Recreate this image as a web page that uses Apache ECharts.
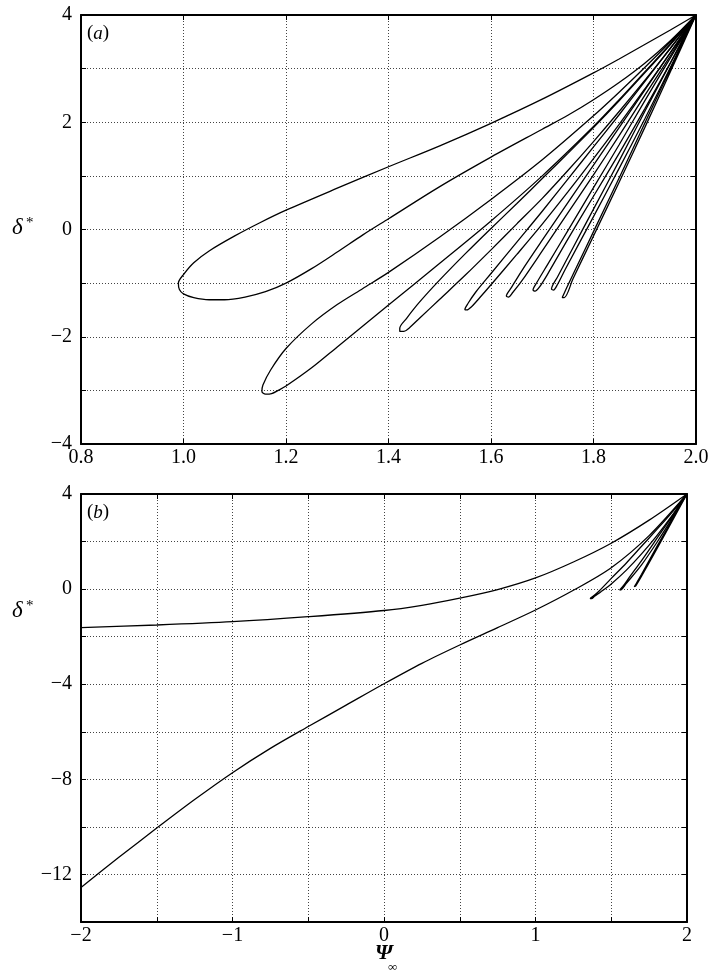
<!DOCTYPE html>
<html lang="en">
<head>
    <meta charset="UTF-8">
    <title>δ* vs Ψ∞</title>
    <style>
        body{ margin:0; background:#fff; }
        #main{ width:709px; height:975px; }
    </style>
</head>
<body>
<div id="main"></div>
<script src="https://cdn.jsdelivr.net/npm/echarts@6/dist/echarts.min.js"></script>
<script>
    // panel (a): loops all leaving from (2,4)
    const loop1 = [[2.0,4.0],[1.95,3.72],[1.9,3.45],[1.85,3.18],[1.8,2.92],[1.7,2.43],[1.6,1.98],[1.5,1.56],[1.4,1.17],[1.3,0.77],[1.2,0.36],[1.15,0.13],[1.1,-0.12],[1.05,-0.4],[1.02,-0.62],[1.0,-0.84],[0.99,-1.0],[0.992,-1.12],[1.0,-1.2],[1.02,-1.27],[1.05,-1.31],[1.08,-1.31],[1.12,-1.26],[1.16,-1.16],[1.2,-1.0],[1.25,-0.73],[1.3,-0.42],[1.35,-0.1],[1.4,0.2],[1.5,0.8],[1.6,1.35],[1.7,1.87],[1.75,2.13],[1.8,2.42],[1.85,2.74],[1.9,3.1],[1.95,3.52],[2.0,4.0]]
    const loop2 = [[2.0,4.0],[1.95,3.5],[1.9,3.02],[1.85,2.56],[1.8,2.12],[1.7,1.3],[1.6,0.56],[1.5,-0.14],[1.4,-0.8],[1.35,-1.1],[1.3,-1.4],[1.25,-1.76],[1.2,-2.22],[1.17,-2.62],[1.155,-2.9],[1.153,-3.02],[1.16,-3.07],[1.172,-3.06],[1.185,-3.0],[1.2,-2.92],[1.25,-2.58],[1.3,-2.19],[1.35,-1.8],[1.4,-1.41],[1.5,-0.63],[1.6,0.16],[1.7,1.0],[1.8,1.92],[1.85,2.42],[1.9,2.94],[1.95,3.46],[2.0,4.0]]
    const loop3 = [[2.0,4.0],[1.95,3.45],[1.9,2.92],[1.85,2.4],[1.8,1.9],[1.75,1.42],[1.7,0.95],[1.65,0.48],[1.6,0.02],[1.55,-0.45],[1.5,-0.94],[1.46,-1.36],[1.435,-1.66],[1.422,-1.84],[1.422,-1.9],[1.43,-1.9],[1.44,-1.84],[1.46,-1.66],[1.5,-1.3],[1.55,-0.85],[1.6,-0.38],[1.65,0.1],[1.7,0.58],[1.75,1.1],[1.8,1.64],[1.85,2.2],[1.9,2.78],[1.95,3.38],[2.0,4.0]]
    const loop4 = [[2.0,4.0],[1.95,3.38],[1.9,2.76],[1.85,2.14],[1.8,1.54],[1.75,0.94],[1.7,0.34],[1.65,-0.24],[1.6,-0.82],[1.57,-1.17],[1.555,-1.38],[1.549,-1.49],[1.553,-1.5],[1.562,-1.44],[1.58,-1.25],[1.6,-1.03],[1.65,-0.47],[1.7,0.1],[1.75,0.7],[1.8,1.32],[1.85,1.96],[1.9,2.62],[1.95,3.3],[2.0,4.0]]
    const loop5 = [[2.0,4.0],[1.95,3.3],[1.9,2.6],[1.85,1.9],[1.8,1.2],[1.75,0.5],[1.7,-0.2],[1.66,-0.77],[1.64,-1.08],[1.63,-1.24],[1.634,-1.26],[1.642,-1.18],[1.66,-0.96],[1.7,-0.4],[1.75,0.31],[1.8,1.02],[1.85,1.75],[1.9,2.5],[1.95,3.24],[2.0,4.0]]
    const loop6 = [[2.0,4.0],[1.95,3.2],[1.9,2.4],[1.85,1.58],[1.8,0.78],[1.75,-0.02],[1.71,-0.66],[1.69,-0.98],[1.682,-1.13],[1.686,-1.15],[1.694,-1.08],[1.71,-0.84],[1.75,-0.18],[1.8,0.62],[1.85,1.42],[1.9,2.25],[1.95,3.11],[2.0,4.0]]
    const loop7 = [[2.0,4.0],[1.95,3.1],[1.9,2.2],[1.85,1.28],[1.8,0.38],[1.76,-0.34],[1.73,-0.88],[1.718,-1.11],[1.722,-1.13],[1.73,-1.02],[1.745,-0.74],[1.8,0.24],[1.85,1.14],[1.9,2.06],[1.95,3.02],[2.0,4.0]]
    const loop8 = [[2.0,4.0],[1.95,3.0],[1.9,1.98],[1.85,0.96],[1.8,-0.04],[1.77,-0.64],[1.75,-1.04],[1.739,-1.27],[1.743,-1.27],[1.76,-0.92],[1.8,-0.12],[1.85,0.88],[1.9,1.9],[1.95,2.94],[2.0,4.0]]

    // panel (b)
    const upperB = [[-2.0,-1.62],[-1.5,-1.51],[-1.0,-1.37],[-0.5,-1.16],[0.0,-0.9],[0.25,-0.68],[0.5,-0.38],[0.75,-0.02],[1.0,0.47],[1.25,1.14],[1.5,1.93],[1.75,2.9],[2.0,4.0]]
    const lowerB = [[-2.0,-12.55],[-1.75,-11.28],[-1.5,-10.05],[-1.25,-8.85],[-1.0,-7.72],[-0.75,-6.7],[-0.5,-5.78],[-0.25,-4.88],[0.0,-3.98],[0.25,-3.12],[0.5,-2.35],[0.75,-1.62],[1.0,-0.88],[1.25,-0.05],[1.5,0.9],[1.75,2.25],[2.0,4.0]]
    const loopB1 = [[2.0,4.0],[1.9,3.22],[1.8,2.5],[1.7,1.8],[1.6,1.1],[1.5,0.45],[1.42,-0.08],[1.38,-0.3],[1.362,-0.39],[1.37,-0.4],[1.39,-0.3],[1.43,-0.12],[1.5,0.22],[1.6,0.8],[1.7,1.48],[1.8,2.24],[1.9,3.08],[2.0,4.0]]
    const loopB2 = [[2.0,4.0],[1.9,3.05],[1.8,2.12],[1.7,1.2],[1.62,0.5],[1.575,0.1],[1.556,-0.04],[1.566,-0.03],[1.6,0.24],[1.7,1.02],[1.8,1.95],[1.9,2.95],[2.0,4.0]]
    const loopB3 = [[2.0,4.0],[1.9,2.9],[1.8,1.78],[1.7,0.62],[1.66,0.18],[1.652,0.1],[1.662,0.14],[1.7,0.54],[1.8,1.68],[1.9,2.84],[2.0,4.0]]

    const curvesA = [loop1,loop2,loop3,loop4,loop5,loop6,loop7,loop8]
    const curvesB = [upperB,lowerB,loopB1,loopB2,loopB3]

    const FONT = 'Liberation Serif'
    const minus = v => v < 0 ? '\u2212' + Math.abs(v) : String(v)

    const gridLine = { show:true, lineStyle:{ color:'#444', width:1, type:[1,2] } }
    const frame = { show:true, onZero:false, lineStyle:{ color:'#000', width:2 } }
    const ticks = { show:true, inside:true, length:5, lineStyle:{ color:'#000', width:1 } }
    const label = (fmt, margin) => ({
        show:true, color:'#000', fontFamily:FONT, fontSize:20, margin,
        showMinLabel:true, showMaxLabel:true, formatter:fmt
    })

    // one panel = bottom/left axes with labels plus top/right axes for the box
    function xPair(grid, min, max, interval, fmt){
        return [
            { type:'value', gridIndex:grid, min, max, interval, position:'bottom',
              axisLine:frame, axisTick:ticks, splitLine:gridLine, axisLabel:label(fmt, 4) },
            { type:'value', gridIndex:grid, min, max, interval, position:'top',
              axisLine:frame, axisTick:ticks, splitLine:{show:false}, axisLabel:{show:false} }
        ]
    }
    function yPair(grid, min, max, interval, fmt){
        return [
            { type:'value', gridIndex:grid, min, max, interval, position:'left',
              axisLine:frame, axisTick:ticks, splitLine:gridLine, axisLabel:label(fmt, 9) },
            { type:'value', gridIndex:grid, min, max, interval, position:'right',
              axisLine:frame, axisTick:ticks, splitLine:{show:false}, axisLabel:{show:false} }
        ]
    }

    const lineSeries = (data, axis) => ({
        type:'line', data, xAxisIndex:axis, yAxisIndex:axis,
        showSymbol:false, symbol:'none', smooth:0.3, silent:true,
        lineStyle:{ color:'#000', width:1.3 }
    })

    const myChart = echarts.init(document.getElementById('main'))

    const option = {
        animation:false,
        backgroundColor:'#fff',
        grid:[
            { left:81, top:15, width:615, height:429, containLabel:false, outerBoundsMode:'none' },
            { left:81, top:494, width:606, height:428, containLabel:false, outerBoundsMode:'none' }
        ],
        xAxis:[
            ...xPair(0, 0.8, 2.0, 0.2, v => v.toFixed(1)),
            ...xPair(1, -2, 2, 0.5, v => Math.abs(v - Math.round(v)) < 1e-6 ? minus(Math.round(v)) : '')
        ],
        yAxis:[
            ...yPair(0, -4, 4, 1, v => Math.round(v) % 2 === 0 ? minus(Math.round(v)) : ''),
            ...yPair(1, -14, 4, 2, v => Math.round(v) % 4 === 0 ? minus(Math.round(v)) : '')
        ],
        series:[
            ...curvesA.map(d => lineSeries(d, 0)),
            ...curvesB.map(d => lineSeries(d, 2))
        ],
        graphic:[
            { type:'text', left:87, top:24, style:{ text:'({i|a})', fontFamily:FONT, fontSize:19, fill:'#000',
                rich:{ i:{ fontStyle:'italic', fontSize:19, fontFamily:FONT } } } },
            { type:'text', left:87, top:503, style:{ text:'({i|b})', fontFamily:FONT, fontSize:19, fill:'#000',
                rich:{ i:{ fontStyle:'italic', fontSize:19, fontFamily:FONT } } } },
            { type:'text', left:12, top:216, style:{ text:'δ', fontFamily:FONT, fontStyle:'italic', fontSize:23, fill:'#000' } },
            { type:'text', left:26, top:216, style:{ text:'*', fontFamily:FONT, fontSize:15, fill:'#000' } },
            { type:'text', left:12, top:599, style:{ text:'δ', fontFamily:FONT, fontStyle:'italic', fontSize:23, fill:'#000' } },
            { type:'text', left:26, top:599, style:{ text:'*', fontFamily:FONT, fontSize:15, fill:'#000' } },
            { type:'text', left:375, top:942, style:{ text:'Ψ', fontFamily:FONT, fontStyle:'italic', fontWeight:'bold', fontSize:22, fill:'#000' } },
            { type:'text', left:388, top:961, style:{ text:'∞', fontFamily:FONT, fontSize:13, fill:'#000' } }
        ]
    }

    myChart.setOption(option)
</script>
</body>
</html>
